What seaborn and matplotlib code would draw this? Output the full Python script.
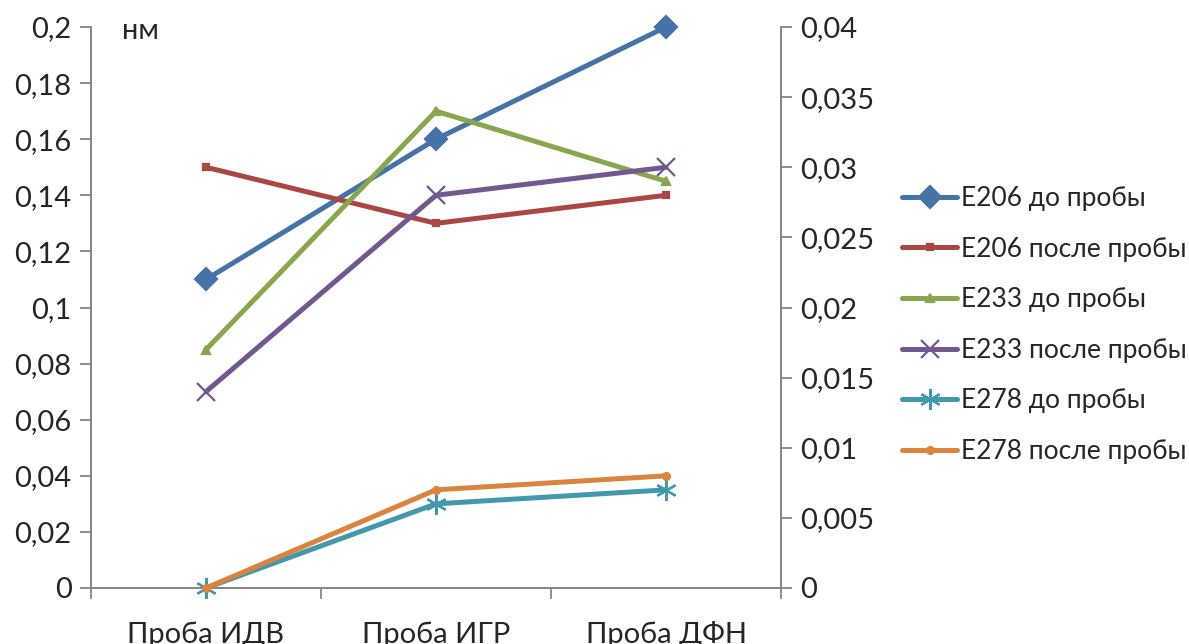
import matplotlib
matplotlib.use("Agg")
import matplotlib.pyplot as plt
from matplotlib.ticker import FuncFormatter, FixedLocator, MultipleLocator
from matplotlib.lines import Line2D
import seaborn as sns
import pandas as pd

# Samples along the x axis
categories = ["Проба ИДВ", "Проба ИГР", "Проба ДФН"]

# Primary axis series (nm)
e206_before = [0.11, 0.16, 0.20]
e206_after = [0.15, 0.13, 0.14]
e233_before = [0.085, 0.17, 0.145]
e233_after = [0.07, 0.14, 0.15]

# Secondary axis series (nm)
e278_before = [0.0, 0.006, 0.007]
e278_after = [0.0, 0.007, 0.008]

series = [
    ("E206 до пробы", e206_before, "left", "#4572A7", "D", 11),
    ("E206 после пробы", e206_after, "left", "#AA4643", "s", 5),
    ("E233 до пробы", e233_before, "left", "#89A54E", "^", 6),
    ("E233 после пробы", e233_after, "left", "#71588F", "x", 13),
    ("E278 до пробы", e278_before, "right", "#4198AF", (6, 2, 0), 15),
    ("E278 после пробы", e278_after, "right", "#DB843D", "o", 5),
]

sns.set_theme(style="white")
plt.rcParams["font.family"] = ["Lato", "DejaVu Sans"]
FS = 21
LEG_FS = 19

fig = plt.figure(figsize=(11.89, 6.44), dpi=100)
ax = fig.add_axes([91 / 1189, 56 / 644, 690 / 1189, 561 / 644])
ax2 = ax.twinx()

gray = "#868686"
handles = []
for name, vals, side, color, marker, ms in series:
    df = pd.DataFrame({"cat": categories, "val": vals})
    target = ax if side == "left" else ax2
    sns.lineplot(data=df, x="cat", y="val", ax=target, color=color, lw=3.6,
                 marker=marker, markersize=ms, markeredgecolor=color,
                 markeredgewidth=1.6, sort=False, legend=False, clip_on=False,
                 zorder=3)
    handles.append(Line2D([], [], color=color, lw=3.6, marker=marker,
                          markersize=ms, markeredgecolor=color,
                          markeredgewidth=1.6, label=name))

ax.set_xlim(-0.5, 2.5)
ax.set_ylim(0, 0.2)
ax2.set_ylim(0, 0.04)

fmt = FuncFormatter(lambda v, p: f"{v:.3f}".rstrip("0").rstrip(".").replace(".", ","))
ax.yaxis.set_major_locator(MultipleLocator(0.02))
ax2.yaxis.set_major_locator(MultipleLocator(0.005))
ax.yaxis.set_major_formatter(fmt)
ax2.yaxis.set_major_formatter(fmt)

# Category boundaries carry the tick marks, centers carry the labels
ax.xaxis.set_major_locator(FixedLocator([-0.5, 0.5, 1.5, 2.5]))
ax.xaxis.set_major_formatter(FuncFormatter(lambda v, p: ""))
ax.xaxis.set_minor_locator(FixedLocator([0, 1, 2]))
ax.xaxis.set_minor_formatter(FuncFormatter(lambda v, p: categories[int(round(v))]))
ax.tick_params(axis="x", which="major", direction="out", length=8, width=1.3,
               color=gray, bottom=True)
ax.tick_params(axis="x", which="minor", length=0, pad=24, labelsize=FS,
               bottom=True)
ax.tick_params(axis="y", direction="out", length=8, width=1.3, color=gray,
               labelsize=FS, pad=6, left=True)
ax2.tick_params(axis="y", direction="out", length=8, width=1.3, color=gray,
                labelsize=FS, pad=6, right=True)

ax.set_xlabel("")
ax.set_ylabel("")
ax2.set_ylabel("")

for a in (ax, ax2):
    a.spines["top"].set_visible(False)
    for s in ("left", "right", "bottom"):
        a.spines[s].set_color(gray)
        a.spines[s].set_linewidth(1.3)
    a.grid(False)

ax.text(0.045, 0.993, "нм", transform=ax.transAxes, fontsize=FS,
        ha="left", va="center")

fig.legend(handles=handles, loc="center left",
           bbox_to_anchor=(902 / 1189, 1 - 325 / 644), frameon=False,
           fontsize=LEG_FS, handlelength=2.1, handletextpad=0.12,
           labelspacing=0.97, borderaxespad=0, borderpad=0)

fig.savefig("out.png", dpi=100)
